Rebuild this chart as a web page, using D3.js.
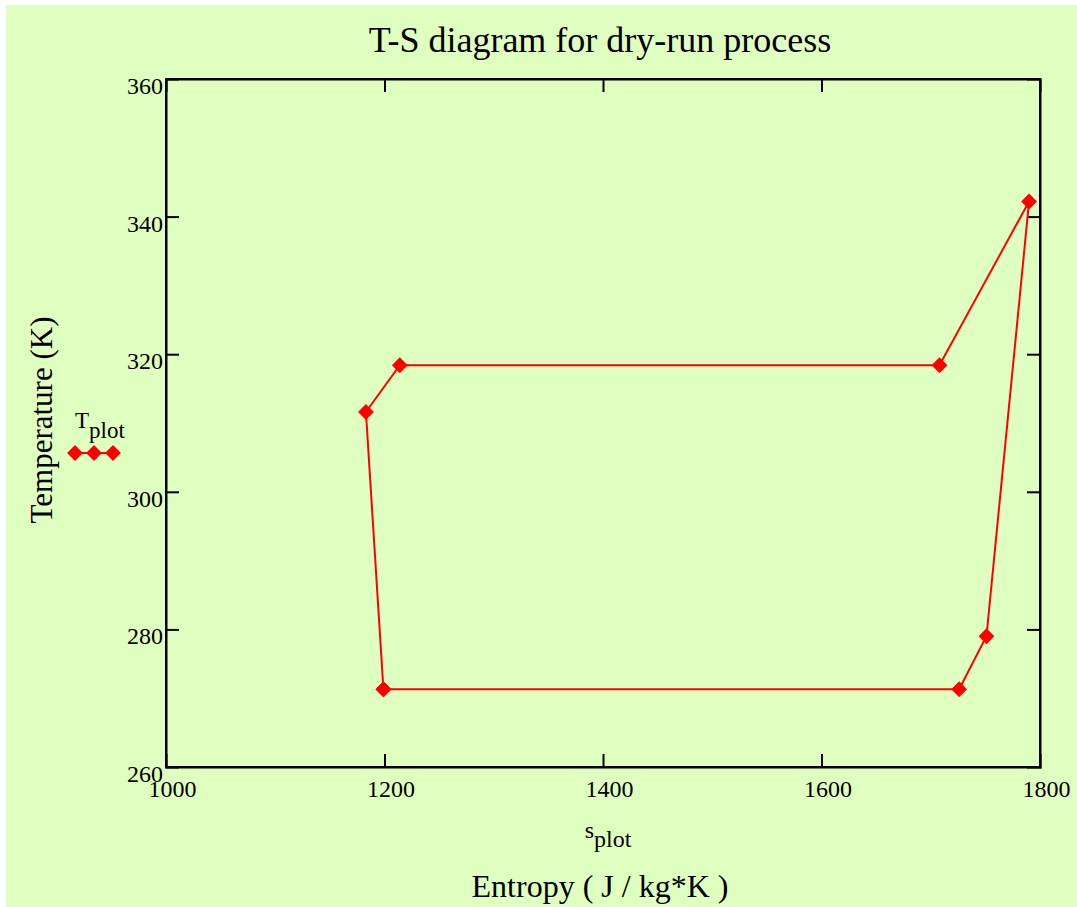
<!DOCTYPE html>
<html>
<head>
<meta charset="utf-8">
<script src="https://cdn.jsdelivr.net/npm/d3@7"></script>
<style>
  body { margin: 0; background: #fff; }
  text { font-family: "Liberation Serif", "Times New Roman", serif; fill: #000; }
</style>
</head>
<body>
<div id="chart"></div>
<script>
// entropy (J/kg*K) and temperature (K) of each state point, cycle closed
const sPlot = [1199, 1183, 1214, 1708, 1790, 1751, 1726, 1199];
const tPlot = [271.3, 311.6, 318.4, 318.4, 342.2, 279.0, 271.3, 271.3];
const xTicks = [1000, 1200, 1400, 1600, 1800];
const yTicks = [260, 280, 300, 320, 340, 360];

const width = 1077, height = 907;
const margin = {top: 79, right: 37, bottom: 140, left: 166};
const serif = '"Liberation Serif", "Times New Roman", serif';

const svg = d3.select('#chart').append('svg')
    .attr('width', width)
    .attr('height', height);

// green backdrop, small white strip on top/left
svg.append('rect')
    .attr('x', 6).attr('y', 5)
    .attr('width', width - 6).attr('height', height - 5)
    .attr('fill', '#dfffc0');

const x = d3.scaleLinear().domain([1000, 1800]).range([margin.left, width - margin.right]);
const y = d3.scaleLinear().domain([260, 360]).range([height - margin.bottom, margin.top]);

const tickLen = 13;

// axes: inward ticks on all four sides
svg.append('g')
    .attr('transform', `translate(0,${y(260)})`)
    .call(d3.axisBottom(x).tickValues(xTicks).tickSize(-tickLen).tickPadding(13).tickFormat(d3.format('d')))
    .call(g => g.selectAll('text').attr('dx', 6).style('font-size', '24px').style('font-family', serif));
svg.append('g')
    .attr('transform', `translate(0,${y(360)})`)
    .call(d3.axisTop(x).tickValues(xTicks).tickSize(-tickLen).tickFormat(''));
svg.append('g')
    .attr('transform', `translate(${x(1000)},0)`)
    .call(d3.axisLeft(y).tickValues(yTicks).tickSize(-tickLen).tickPadding(3).tickFormat(d3.format('d')))
    .call(g => g.selectAll('text').attr('dy', '0.6em').style('font-size', '24px').style('font-family', serif));
svg.append('g')
    .attr('transform', `translate(${x(1800)},0)`)
    .call(d3.axisRight(y).tickValues(yTicks).tickSize(-tickLen).tickFormat(''));

svg.selectAll('.domain, .tick line').attr('stroke', '#000').attr('stroke-width', 2);
svg.selectAll('.tick').filter(d => d === 1000 || d === 1800 || d === 260 || d === 360).select('line').remove();

// frame
svg.append('rect')
    .attr('x', x(1000)).attr('y', y(360))
    .attr('width', x(1800) - x(1000)).attr('height', y(260) - y(360))
    .attr('fill', 'none').attr('stroke', '#000').attr('stroke-width', 2);

// data trace
const line = d3.line().x((d, i) => x(sPlot[i])).y((d, i) => y(tPlot[i]));
svg.append('path')
    .datum(sPlot)
    .attr('d', line)
    .attr('fill', 'none')
    .attr('stroke', '#ff0000')
    .attr('stroke-width', 2);

const diamond = d3.symbol().type(d3.symbolDiamond2).size(160);
svg.selectAll('.marker')
    .data(sPlot)
  .join('path')
    .attr('class', 'marker')
    .attr('d', diamond)
    .attr('transform', (d, i) => `translate(${x(d)},${y(tPlot[i])})`)
    .attr('fill', '#ff0000');

// legend
const legend = svg.append('g');
legend.append('line')
    .attr('x1', 75).attr('x2', 113).attr('y1', 453).attr('y2', 453)
    .attr('stroke', '#ff0000').attr('stroke-width', 2);
legend.selectAll('.lm')
    .data([75, 94, 113])
  .join('path')
    .attr('d', diamond)
    .attr('transform', d => `translate(${d},453)`)
    .attr('fill', '#ff0000');
const lt = legend.append('text').attr('x', 75).attr('y', 428).style('font-size', '23px');
lt.append('tspan').text('T');
lt.append('tspan').attr('dy', 10).text('plot');

// titles
svg.append('text')
    .attr('x', 600).attr('y', 52)
    .attr('text-anchor', 'middle')
    .style('font-size', '36px')
    .text('T-S diagram for dry-run process');

const st = svg.append('text')
    .attr('x', 608).attr('y', 838)
    .attr('text-anchor', 'middle')
    .style('font-size', '24px');
st.append('tspan').text('s');
st.append('tspan').attr('dy', 9).text('plot');

svg.append('text')
    .attr('x', 600).attr('y', 897)
    .attr('text-anchor', 'middle')
    .style('font-size', '32px')
    .text('Entropy ( J / kg*K )');

svg.append('text')
    .attr('transform', 'translate(52,420) rotate(-90)')
    .attr('text-anchor', 'middle')
    .style('font-size', '31px')
    .text('Temperature (K)');
</script>
</body>
</html>
